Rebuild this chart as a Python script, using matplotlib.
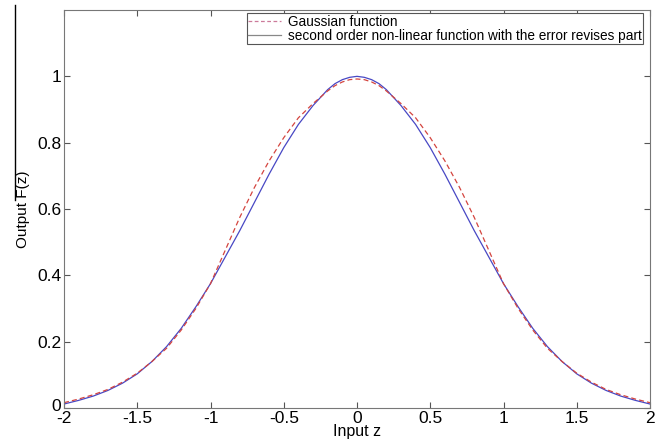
import matplotlib
matplotlib.use("Agg")
import matplotlib.pyplot as plt
import matplotlib.transforms as mtransforms
from matplotlib.lines import Line2D

plt.rcParams['font.family'] = ['Liberation Sans', 'DejaVu Sans']

z = [-2.0, -1.9, -1.8, -1.7, -1.6, -1.5, -1.4, -1.3, -1.2, -1.1,
     -1.0, -0.9, -0.8, -0.7, -0.6, -0.5, -0.4, -0.3, -0.2, -0.15, -0.1, -0.05,
     0.0, 0.05, 0.1, 0.15, 0.2, 0.3, 0.4, 0.5, 0.6, 0.7, 0.8, 0.9,
     1.0, 1.1, 1.2, 1.3, 1.4, 1.5, 1.6, 1.7, 1.8, 1.9, 2.0]

gaussian = [0.016, 0.027, 0.040, 0.056, 0.078, 0.105, 0.140, 0.180, 0.235, 0.300,
            0.375, 0.475, 0.575, 0.665, 0.745, 0.815, 0.875, 0.918, 0.956, 0.972, 0.983, 0.990,
            0.992, 0.990, 0.983, 0.972, 0.956, 0.918, 0.875, 0.815, 0.745, 0.665, 0.575, 0.475,
            0.375, 0.300, 0.235, 0.180, 0.140, 0.105, 0.078, 0.056, 0.040, 0.027, 0.016]

second_order = [0.012, 0.023, 0.036, 0.053, 0.075, 0.103, 0.140, 0.185, 0.240, 0.305,
                0.375, 0.455, 0.535, 0.620, 0.705, 0.785, 0.855, 0.912, 0.960, 0.978, 0.990, 0.997,
                1.000, 0.997, 0.990, 0.978, 0.960, 0.912, 0.855, 0.785, 0.705, 0.620, 0.535, 0.455,
                0.375, 0.305, 0.240, 0.185, 0.140, 0.103, 0.075, 0.053, 0.036, 0.023, 0.012]

x_ticks = [-2, -1.5, -1, -0.5, 0, 0.5, 1, 1.5, 2]
x_tick_labels = ['-2', '-1.5', '-1', '-0.5', '0', '0.5', '1', '1.5', '2']
y_ticks = [0, 0.2, 0.4, 0.6, 0.8, 1.0]
y_tick_labels = ['0', '0.2', '0.4', '0.6', '0.8', '1']

W, H = 666, 442
fig = plt.figure(figsize=(W / 100, H / 100), dpi=100)
ax = fig.add_axes([64 / W, 1 - 408 / H, (650 - 64) / W, (408 - 10) / H])

ax.plot(z, second_order, color='#4848c4', lw=0.9, solid_joinstyle='round')
ax.plot(z, gaussian, color='#d4453f', lw=0.9, dashes=(4, 2.5))

ax.set_xlim(-2, 2)
ax.set_ylim(0, 1.2)
ax.set_xticks(x_ticks)
ax.set_xticklabels(x_tick_labels)
ax.set_yticks(y_ticks)
ax.set_yticklabels(y_tick_labels)

ax.tick_params(direction='in', length=4, width=0.8, color='#555555',
               top=True, right=True, labelsize=12.5, pad=2)
for s in ax.spines.values():
    s.set_color('#777777')
    s.set_linewidth(0.8)

# nudge the "0" y tick label slightly upward as in the reference
zero_lbl = ax.get_yticklabels()[0]
zero_lbl.set_transform(zero_lbl.get_transform() +
                       mtransforms.ScaledTranslation(0, 3 / 100, fig.dpi_scale_trans))

ax.set_xlabel('Input z', fontsize=11.5, labelpad=-1)
ax.set_ylabel('Output F(z)', fontsize=11, labelpad=5)

handles = [Line2D([], [], color='#cc7a9a', lw=0.9, dashes=(3, 2)),
           Line2D([], [], color='#888888', lw=0.9)]
leg = ax.legend(handles, ['Gaussian function',
                          'second order non-linear function with the error revises part'],
                loc='upper right', bbox_to_anchor=(0.988, 0.992), fontsize=9.8,
                fancybox=False, framealpha=1, edgecolor='#555555',
                borderpad=0.1, labelspacing=0.0, handlelength=2.4,
                handletextpad=0.5, borderaxespad=0)
leg.get_frame().set_linewidth(0.8)

fig.add_artist(Line2D([15 / W, 15 / W], [1 - 5 / H, 1 - 200 / H],
                      color='black', lw=1.0, transform=fig.transFigure))

fig.savefig('out.png', dpi=100)
